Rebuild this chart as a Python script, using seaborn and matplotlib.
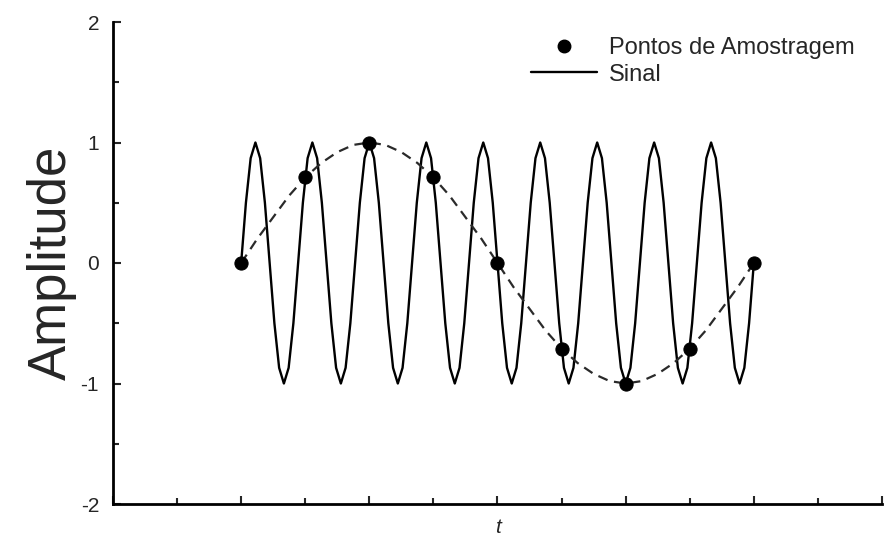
import matplotlib
matplotlib.use("Agg")
import matplotlib.pyplot as plt
from matplotlib.lines import Line2D
from matplotlib.ticker import MultipleLocator
import numpy as np
import pandas as pd
import seaborn as sns

# Sampling points
sample_t = [0, 1, 2, 3, 4, 5, 6, 7, 8]
sample_amp = [0, 0.71, 1, 0.71, 0, -0.71, -1, -0.71, 0]

# Dashed curve through the samples, read every quarter unit
alias_t = [0, 0.25, 0.5, 0.75, 1, 1.25, 1.5, 1.75, 2, 2.25, 2.5, 2.75, 3, 3.25, 3.5, 3.75,
           4, 4.25, 4.5, 4.75, 5, 5.25, 5.5, 5.75, 6, 6.25, 6.5, 6.75, 7, 7.25, 7.5, 7.75, 8]
alias_amp = [0, 0.2, 0.38, 0.56, 0.71, 0.83, 0.92, 0.98, 1, 0.98, 0.92, 0.83, 0.71, 0.56, 0.38, 0.2,
             0, -0.2, -0.38, -0.56, -0.71, -0.83, -0.92, -0.98, -1, -0.98, -0.92, -0.83, -0.71,
             -0.56, -0.38, -0.2, 0]

# Signal, read at 12 points per oscillation (9 oscillations between t=0 and t=8)
signal_amp = [
    0, 0.5, 0.87, 1, 0.87, 0.5, 0, -0.5, -0.87, -1, -0.87, -0.5,
    0, 0.5, 0.87, 1, 0.87, 0.5, 0, -0.5, -0.87, -1, -0.87, -0.5,
    0, 0.5, 0.87, 1, 0.87, 0.5, 0, -0.5, -0.87, -1, -0.87, -0.5,
    0, 0.5, 0.87, 1, 0.87, 0.5, 0, -0.5, -0.87, -1, -0.87, -0.5,
    0, 0.5, 0.87, 1, 0.87, 0.5, 0, -0.5, -0.87, -1, -0.87, -0.5,
    0, 0.5, 0.87, 1, 0.87, 0.5, 0, -0.5, -0.87, -1, -0.87, -0.5,
    0, 0.5, 0.87, 1, 0.87, 0.5, 0, -0.5, -0.87, -1, -0.87, -0.5,
    0, 0.5, 0.87, 1, 0.87, 0.5, 0, -0.5, -0.87, -1, -0.87, -0.5,
    0, 0.5, 0.87, 1, 0.87, 0.5, 0, -0.5, -0.87, -1, -0.87, -0.5,
    0,
]
signal_t = np.linspace(0, 8, len(signal_amp))

y_ticks = [-2, -1, 0, 1, 2]

sns.set_style("ticks")
plt.rcParams['font.family'] = ['Liberation Sans', 'DejaVu Sans']

fig = plt.figure(figsize=(8.87, 5.39), dpi=100)
ax = fig.add_axes([113 / 887, 1 - 504 / 539, (882 - 113) / 887, (504 - 22) / 539])

signal_df = pd.DataFrame({'t': signal_t, 'amp': signal_amp})
alias_df = pd.DataFrame({'t': alias_t, 'amp': alias_amp})
sample_df = pd.DataFrame({'t': sample_t, 'amp': sample_amp})

sns.lineplot(data=signal_df, x='t', y='amp', ax=ax, color='black', linewidth=1.7,
             sort=False, estimator=None)
sns.lineplot(data=alias_df, x='t', y='amp', ax=ax, color='#2a2a2a', linewidth=1.6,
             sort=False, estimator=None)
ax.lines[-1].set_dashes([4.5, 3])
sns.scatterplot(data=sample_df, x='t', y='amp', ax=ax, color='black', s=90,
                edgecolor='black', zorder=5)

ax.set_xlim(-2, 10)
ax.set_ylim(-2, 2)
ax.xaxis.set_major_locator(MultipleLocator(2))
ax.xaxis.set_minor_locator(MultipleLocator(1))
ax.yaxis.set_minor_locator(MultipleLocator(0.5))
ax.set_yticks(y_ticks)
ax.set_yticklabels([str(v) for v in y_ticks])

ax.tick_params(which='major', direction='in', length=5.5, width=1.5, labelsize=15, pad=10)
ax.tick_params(which='minor', direction='in', length=4, width=1.5)
ax.tick_params(axis='x', which='both', labelbottom=False)

for side in ['top', 'right']:
    ax.spines[side].set_visible(False)
for side in ['left', 'bottom']:
    ax.spines[side].set_linewidth(2)
    ax.spines[side].set_color('black')

ax.set_xlabel('t', fontsize=15, style='italic', labelpad=10)
ax.set_ylabel('Amplitude', fontsize=38, labelpad=3)

handles = [
    Line2D([], [], marker='o', color='black', linestyle='none', markersize=9),
    Line2D([], [], color='black', linewidth=1.7),
]
fig.legend(handles, ['Pontos de Amostragem', 'Sinal'], loc='upper left',
           bbox_to_anchor=(531 / 887, 1 - 37 / 539), frameon=False, fontsize=17,
           handlelength=2.8, handletextpad=0.5, borderpad=0, borderaxespad=0,
           labelspacing=0.2)

fig.savefig('out.png', dpi=100, facecolor='white')
